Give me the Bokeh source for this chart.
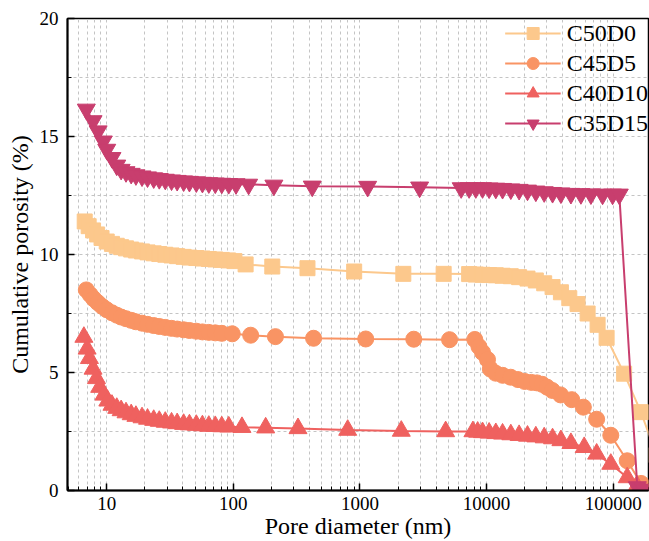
from bokeh.plotting import figure
from bokeh.models import FixedTicker, NumeralTickFormatter, Range1d
from bokeh.embed import file_html
from bokeh.resources import INLINE

# ---- data ----
c50_x = [6.7, 7.2, 7.8, 8.4, 9.1, 10, 11, 12, 13, 14.2, 15.6, 17, 19, 21, 23.5, 26, 29, 32.5, 36, 40.5, 45, 51, 57, 64, 72, 81, 91, 102,
         125, 203, 385, 900, 2200, 4580,
         7280, 8220, 9290, 10470, 11830, 13370, 15540, 18070, 21040, 24490, 28510, 33190, 38640, 45000, 52300, 62800, 75300, 88700,
         122000, 165600, 220000]
c50_y = [11.4, 11.2, 11.02, 10.85, 10.7, 10.55, 10.45, 10.37, 10.31, 10.26, 10.21, 10.17, 10.13, 10.09, 10.05, 10.02, 9.99, 9.96, 9.93, 9.9, 9.87, 9.85, 9.83, 9.81, 9.79, 9.77, 9.75, 9.72,
         9.58, 9.49, 9.42, 9.28, 9.18, 9.18,
         9.17, 9.15, 9.14, 9.13, 9.12, 9.1, 9.08, 9.04, 8.98, 8.9, 8.78, 8.62, 8.4, 8.15, 7.9, 7.5, 7.02, 6.47,
         4.95, 3.32, 1.5]

c45_x = [6.9, 7.4, 7.9, 8.5, 9.2, 10, 11, 12, 13, 14.2, 15.6, 17, 19, 21, 23.5, 26, 29, 32.5, 36, 40.5, 45, 51, 57, 64, 72, 81,
         98, 137, 215, 430, 1110, 2660, 5100,
         8070, 8700, 9290, 10170, 10700, 11800, 13400, 15500, 17700, 20000, 22600, 25000, 27500, 30000, 33000, 38400, 47000, 58100,
         74000, 95700, 129000, 166000]
c45_y = [8.5, 8.3, 8.12, 7.96, 7.8, 7.66, 7.53, 7.43, 7.35, 7.28, 7.21, 7.15, 7.09, 7.04, 6.99, 6.95, 6.91, 6.87, 6.84, 6.81, 6.78, 6.75, 6.72, 6.7, 6.68, 6.66,
         6.64, 6.58, 6.52, 6.45, 6.42, 6.41, 6.39,
         6.4, 6.1, 5.85, 5.55, 5.15, 4.97, 4.88, 4.8, 4.7, 4.62, 4.58, 4.56, 4.5, 4.38, 4.24, 4.05, 3.85, 3.53,
         3.02, 2.34, 1.26, 0.3]

c40_x = [6.6, 7.0, 7.3, 7.8, 8.3, 8.8, 9.5, 10.2, 11, 12, 13, 14.2, 15.6, 17, 19, 21, 23.5, 26, 29, 32.5, 36, 40.5, 45, 51, 57, 64, 72, 81, 92,
         117, 180, 324, 800, 2120, 4750,
         7800, 8500, 9290, 10470, 11830, 13370, 15540, 18070, 21040, 24490, 28510, 33190, 38640, 46350, 59000, 74000, 95700,
         129000, 154000]
c40_y = [6.5, 6.0, 5.6, 5.15, 4.75, 4.38, 4.05, 3.8, 3.62, 3.49, 3.39, 3.3, 3.22, 3.15, 3.09, 3.03, 2.98, 2.94, 2.9, 2.87, 2.84, 2.81, 2.79, 2.77, 2.75, 2.73, 2.72, 2.71, 2.7,
         2.68, 2.66, 2.63, 2.56, 2.52, 2.5,
         2.5, 2.48, 2.46, 2.44, 2.42, 2.4, 2.37, 2.34, 2.31, 2.28, 2.24, 2.2, 2.12, 2.0, 1.83, 1.55, 1.12,
         0.55, 0.2]

c35_x = [6.9, 7.8, 8.55, 9.4, 10, 11, 12, 13, 14.2, 15.6, 17, 19, 21, 23.5, 26, 29, 32.5, 36, 40.5, 45, 51, 57, 64, 72, 81, 92, 105,
         132, 209, 420, 1150, 2960, 6300,
         7280, 8220, 9290, 10470, 11830, 13370, 15540, 18070, 21040, 24490, 28510, 33190, 38640, 46350, 55590, 66690, 82420, 98850, 111700,
         155000, 175000]
c35_y = [16.15, 15.66, 15.23, 14.8, 14.45, 14.1, 13.78, 13.6, 13.5, 13.43, 13.37, 13.32, 13.28, 13.24, 13.21, 13.18, 13.15, 13.13, 13.11, 13.09, 13.07, 13.05, 13.03, 13.02, 13.01, 13.0, 12.99,
         12.97, 12.93, 12.89, 12.88, 12.85, 12.82,
         12.82, 12.82, 12.82, 12.81, 12.8, 12.79, 12.77, 12.75, 12.72, 12.68, 12.65, 12.62, 12.6, 12.58, 12.57, 12.56, 12.55, 12.55, 12.55,
         0.15, 0.05]

series_names = ["C50D0", "C45D5", "C40D10", "C35D15"]
x_major_ticks = [10, 100, 1000, 10000, 100000]
y_major_ticks = [0, 5, 10, 15, 20]
y_minor_ticks = [2.5, 7.5, 12.5, 17.5]

# ---- styling ----
colors = ["#FCC88C", "#F99464", "#EF615F", "#C83E6E"]
markers = ["square", "circle", "triangle", "inverted_triangle"]
msizes = [15, 16, 18, 18]
FONT = "Liberation Serif"

x_minor_ticks = [m * 10 ** e for e in range(0, 6) for m in range(2, 10)]

p = figure(width=649, height=541, x_axis_type="log",
           x_range=Range1d(4.9, 190000), y_range=Range1d(0, 20),
           output_backend="svg", toolbar_location=None,
           min_border_left=67, min_border_right=1, min_border_top=18, min_border_bottom=50)

data = [(c50_x, c50_y), (c45_x, c45_y), (c40_x, c40_y), (c35_x, c35_y)]
for (xs, ys), name, col, mk, ms in zip(data, series_names, colors, markers, msizes):
    p.line(xs, ys, line_color=col, line_width=2, legend_label=name)
    p.scatter(xs, ys, marker=mk, size=ms, fill_color=col, line_color=col, legend_label=name)

p.xaxis.ticker = FixedTicker(ticks=x_major_ticks, minor_ticks=x_minor_ticks)
p.xaxis.formatter = NumeralTickFormatter(format="0")
p.yaxis.ticker = FixedTicker(ticks=y_major_ticks, minor_ticks=y_minor_ticks)

for ax in (p.xaxis[0], p.yaxis[0]):
    ax.major_tick_in = 7
    ax.major_tick_out = 0
    ax.minor_tick_in = 4
    ax.minor_tick_out = 0
    ax.axis_line_width = 2
    ax.major_tick_line_width = 1.5
    ax.minor_tick_line_width = 1
    ax.axis_line_color = "black"
    ax.major_tick_line_color = "black"
    ax.minor_tick_line_color = "black"
    ax.major_label_text_font = FONT
    ax.major_label_text_font_size = "19px"
    ax.major_label_text_color = "black"
    ax.axis_label_text_font = FONT
    ax.axis_label_text_font_size = "24px"
    ax.axis_label_text_font_style = "normal"
    ax.axis_label_text_color = "black"

p.xaxis.axis_label = "Pore diameter (nm)"
p.yaxis.axis_label = "Cumulative porosity (%)"
p.xaxis.major_label_standoff = 6
p.yaxis.major_label_standoff = 9
p.xaxis.axis_label_standoff = 0
p.yaxis.axis_label_standoff = 4

for g in (p.xgrid[0], p.ygrid[0]):
    g.grid_line_color = "#c4c4c4"
    g.grid_line_dash = "3 3"
    g.grid_line_width = 1
    g.minor_grid_line_color = "#c4c4c4"
    g.minor_grid_line_dash = "3 3"
    g.minor_grid_line_width = 1

p.outline_line_color = "black"
p.outline_line_width = 1.5
p.background_fill_color = "white"
p.border_fill_color = "white"

lg = p.legend[0]
lg.location = "top_right"
lg.margin = 0
lg.padding = 0
lg.spacing = 0
lg.glyph_width = 56
lg.glyph_height = 30
lg.label_height = 30
lg.label_standoff = 6
lg.label_text_font = FONT
lg.label_text_font_size = "24px"
lg.label_text_color = "black"
lg.background_fill_alpha = 0
lg.border_line_alpha = 0

open("out.html", "w").write(file_html(p, INLINE))
